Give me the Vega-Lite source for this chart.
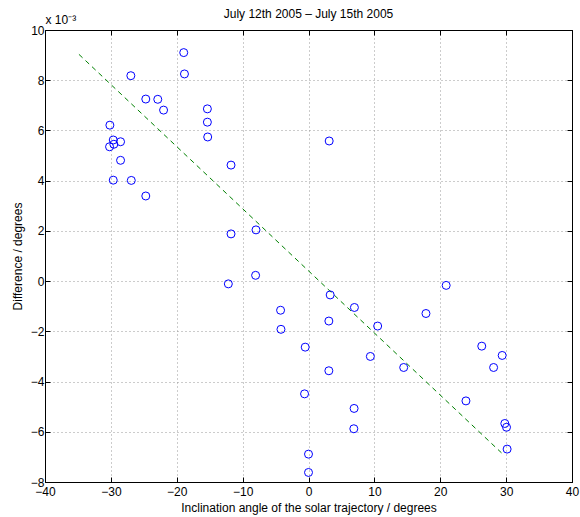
{
  "$schema": "https://vega.github.io/schema/vega-lite/v6.json",
  "width": 527,
  "height": 452,
  "autosize": "none",
  "padding": {"left": 45, "top": 30, "right": 8, "bottom": 35},
  "title": {"text": "July 12th 2005 – July 15th 2005", "fontSize": 12, "font": "Liberation Sans", "fontWeight": "normal", "color": "black", "offset": -8, "anchor": "middle"},
  "datasets": {
    "pts": [
      {"x": -30.15, "y": 6.21}, {"x": -29.64, "y": 5.62}, {"x": -29.55, "y": 5.45}, {"x": -28.53, "y": 5.55},
      {"x": -30.2, "y": 5.35}, {"x": -28.53, "y": 4.81}, {"x": -29.64, "y": 4.02}, {"x": -26.9, "y": 4.01},
      {"x": -24.7, "y": 3.39}, {"x": -26.97, "y": 8.18}, {"x": -24.7, "y": 7.25}, {"x": -22.88, "y": 7.24},
      {"x": -22.0, "y": 6.81}, {"x": -18.94, "y": 9.10}, {"x": -18.83, "y": 8.25}, {"x": -15.35, "y": 6.86},
      {"x": -15.35, "y": 6.33}, {"x": -15.3, "y": 5.74}, {"x": -11.76, "y": 4.62}, {"x": -11.76, "y": 1.88},
      {"x": 3.14, "y": 5.58}, {"x": -7.97, "y": 2.04}, {"x": -12.17, "y": -0.11}, {"x": -8.03, "y": 0.23},
      {"x": -4.24, "y": -1.16}, {"x": -4.18, "y": -1.92}, {"x": 3.29, "y": -0.55}, {"x": 6.97, "y": -1.05},
      {"x": 3.09, "y": -1.59}, {"x": 10.5, "y": -1.79}, {"x": -0.5, "y": -2.63}, {"x": 9.39, "y": -3.0},
      {"x": 3.09, "y": -3.57}, {"x": -0.6, "y": -4.49}, {"x": 6.92, "y": -5.07}, {"x": 6.88, "y": -5.88},
      {"x": 0.0, "y": -6.89}, {"x": 0.0, "y": -7.62}, {"x": 20.9, "y": -0.17}, {"x": 17.83, "y": -1.29},
      {"x": 14.45, "y": -3.44}, {"x": 26.3, "y": -2.59}, {"x": 29.4, "y": -2.96}, {"x": 28.1, "y": -3.44},
      {"x": 23.9, "y": -4.77}, {"x": 29.8, "y": -5.67}, {"x": 30.06, "y": -5.82}, {"x": 30.15, "y": -6.69}
    ],
    "fit": [
      {"x": -34.85, "y": 9.03}, {"x": 29.3, "y": -6.84}
    ]
  },
  "config": {
    "view": {"stroke": "black", "strokeWidth": 1},
    "axis": {
      "labelFont": "Liberation Sans", "labelFontSize": 12, "labelColor": "black",
      "titleFont": "Liberation Sans", "titleFontSize": 12, "titleFontWeight": "normal", "titleColor": "black",
      "domainColor": "black", "tickColor": "black", "tickSize": -5,
      "gridColor": "#999999", "gridDash": [1, 3], "gridOpacity": 1, "gridWidth": 1
    }
  },
  "resolve": {"axis": {"x": "independent", "y": "independent"}},
  "layer": [
    {
      "data": {"name": "fit"},
      "mark": {"type": "line", "color": "#008000", "strokeDash": [5, 4], "strokeWidth": 1},
      "encoding": {
        "x": {"field": "x", "type": "quantitative", "scale": {"domain": [-40, 40], "nice": false},
          "axis": {"orient": "bottom", "title": "Inclination angle of the solar trajectory / degrees", "values": [-40, -30, -20, -10, 0, 10, 20, 30, 40], "grid": true, "labelPadding": 9, "titlePadding": 5, "labelFlush": false}},
        "y": {"field": "y", "type": "quantitative", "scale": {"domain": [-8, 10], "nice": false},
          "axis": {"orient": "left", "title": "Difference / degrees", "values": [-8, -6, -4, -2, 0, 2, 4, 6, 8, 10], "grid": true, "labelPadding": 6, "titlePadding": 6, "labelFlush": false}}
      }
    },
    {
      "data": {"name": "pts"},
      "mark": {"type": "point", "shape": "circle", "filled": false, "color": "#0000ff", "size": 64, "strokeWidth": 1, "opacity": 1},
      "encoding": {
        "x": {"field": "x", "type": "quantitative", "scale": {"domain": [-40, 40], "nice": false},
          "axis": {"orient": "top", "values": [-40, -30, -20, -10, 0, 10, 20, 30, 40], "labels": false, "grid": false, "title": "x 10⁻³", "titleX": 0, "titleY": -7, "titleAlign": "left", "titleAnchor": "start", "titleBaseline": "alphabetic"}},
        "y": {"field": "y", "type": "quantitative", "scale": {"domain": [-8, 10], "nice": false},
          "axis": {"orient": "right", "values": [-8, -6, -4, -2, 0, 2, 4, 6, 8, 10], "labels": false, "grid": false, "title": null}}
      }
    }
  ]
}
